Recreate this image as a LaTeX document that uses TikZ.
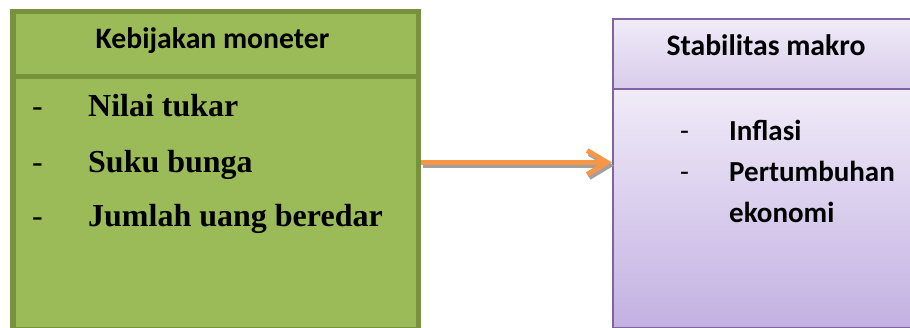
\documentclass[tikz,border=0pt]{standalone}
\usepackage{fontspec}
\setmainfont{Liberation Serif}
\newfontfamily\calfont{Carlito}
\usetikzlibrary{arrows.meta}
\definecolor{gfill}{HTML}{9BBB59}
\definecolor{gborder}{HTML}{76923C}
\definecolor{pborder}{HTML}{8064A2}
\definecolor{ptop}{RGB}{240,235,248}
\definecolor{phbot}{RGB}{216,204,234}
\definecolor{pbot}{RGB}{195,177,226}
\definecolor{arroworange}{HTML}{F79646}
\definecolor{shadowgray}{RGB}{160,160,160}
\tikzset{
  greenbox/.style={draw=gborder, fill=gfill, line width=5.5pt, rectangle, inner sep=0pt, anchor=north west},
  purplehead/.style={draw=pborder, top color=ptop, bottom color=phbot, line width=1.6pt, rectangle, inner sep=0pt, anchor=north west},
  purplebody/.style={draw=pborder, top color=ptop, bottom color=pbot, line width=1.6pt, rectangle, inner sep=0pt, anchor=north west},
  headtxt/.style={font=\calfont\fontsize{29.7}{34}\selectfont\bfseries, anchor=base, inner sep=0pt},
  serifitem/.style={font=\fontsize{32}{36}\selectfont\bfseries, anchor=base west, inner sep=0pt},
  serifdash/.style={font=\fontsize{32}{36}\selectfont, anchor=base west, inner sep=0pt},
  calitem/.style={font=\calfont\fontsize{29}{34}\selectfont\bfseries, anchor=base west, inner sep=0pt},
  caldash/.style={font=\calfont\fontsize{29}{34}\selectfont, anchor=base west, inner sep=0pt},
  link/.style={draw=arroworange, line width=5pt, -{Straight Barb[length=20pt,width=24pt]}},
  linkshadow/.style={draw=shadowgray, line width=5pt, -{Straight Barb[length=20pt,width=24pt]}},
}
\begin{document}
\begin{tikzpicture}[x=1pt,y=-1pt]
\useasboundingbox (0,0) rectangle (910,328);
% left box
\node[greenbox, minimum width=405.5pt, minimum height=65pt] (Lh) at (10,9) {};
\node[greenbox, minimum width=405.5pt, minimum height=253pt] (Lb) at (10,74) {};
\node[headtxt] (Lt) at (212.5,49) {Kebijakan moneter};
\node[serifdash] (Ld1) at (32,116.7) {-};
\node[serifdash] (Ld2) at (32,172.3) {-};
\node[serifdash] (Ld3) at (32,226.7) {-};
\node[serifitem] (Li1) at (88,116.7) {Nilai tukar};
\node[serifitem] (Li2) at (88,172.3) {Suku bunga};
\node[serifitem] (Li3) at (88,226.7) {Jumlah uang beredar};
% right box
\node[purplehead, minimum width=310pt, minimum height=70pt] (Rh) at (612,18) {};
\node[purplebody, minimum width=310pt, minimum height=239pt] (Rb) at (612,88) {};
\node[headtxt] (Rt) at (766,56) {Stabilitas makro};
\node[caldash] (Rd1) at (680,141) {-};
\node[caldash] (Rd2) at (680,181.7) {-};
\node[calitem] (Ri1) at (729,141) {Inflasi};
\node[calitem] (Ri2) at (729,181.7) {Pertumbuhan};
\node[calitem] (Ri3) at (729,222.3) {ekonomi};
% arrow
\coordinate (ay) at (0,162.5);
\draw[linkshadow, transform canvas={shift={(2pt,-3pt)}}] (Lb.east |- ay) -- (Rb.west |- ay);
\draw[link] (Lb.east |- ay) -- (Rb.west |- ay);
\end{tikzpicture}
\end{document}
